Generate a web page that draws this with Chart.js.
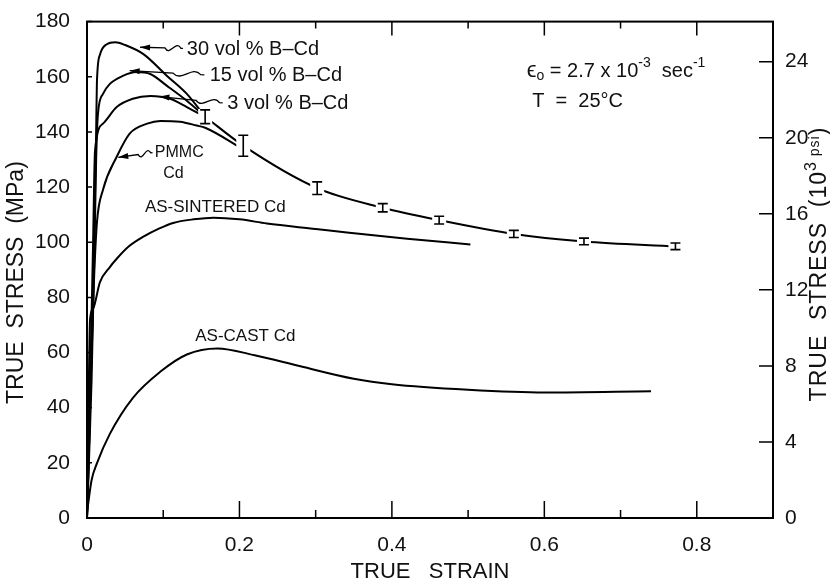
<!DOCTYPE html>
<html>
<head>
<meta charset="utf-8">
<script src="https://cdn.jsdelivr.net/npm/chart.js@4.4.0/dist/chart.umd.min.js"></script>
<style>
  body { margin: 0; background: #fff; }
</style>
</head>
<body>
<canvas id="stressChart" width="830" height="587"></canvas>
<script>
// true stress - true strain curves
const strain30 = [0, 0.006, 0.010, 0.012, 0.013, 0.017, 0.026, 0.037, 0.050, 0.074, 0.105, 0.131, 0.155];
const stress30 = [0, 60, 110, 140, 158, 168, 171.8, 172.5, 171.5, 168.2, 160.3, 153.8, 145.5];

const strain15 = [0, 0.006, 0.010, 0.012, 0.0144, 0.021, 0.030, 0.047, 0.065, 0.083, 0.105, 0.131, 0.155];
const stress15 = [0, 50, 100, 130, 146.6, 153.8, 157.4, 160.3, 161.7, 161, 156.7, 151.3, 145.5];

const strain3 = [0, 0.005, 0.008, 0.0105, 0.021, 0.039, 0.060, 0.083, 0.109, 0.131, 0.155];
const stress3 = [0, 60, 100, 133, 143, 149, 152, 153, 152, 149, 145.5];

const strainPmmc = [0, 0.005, 0.009, 0.013, 0.021, 0.039, 0.056, 0.079, 0.096, 0.122, 0.144, 0.155, 0.203];
const stressPmmc = [0, 50, 85, 107, 119, 131, 139.4, 143, 144, 143.7, 142.3, 141.5, 134];

// common B-Cd / PMMC curve with error bars
const strainBars = [0.155, 0.205, 0.302, 0.388, 0.462, 0.560, 0.652, 0.772];
const stressBars = [145.5, 135, 119.6, 112.5, 108, 103, 100.3, 98.5];
const errBars = [2.5, 3.8, 2.3, 1.5, 1.4, 1.3, 1.2, 1.2];

const strainSinter = [0, 0.002, 0.004, 0.008, 0.017, 0.030, 0.039, 0.055, 0.074, 0.095, 0.113, 0.140, 0.166, 0.200, 0.236, 0.300, 0.341, 0.420, 0.503];
const stressSinter = [0, 40, 72, 76, 85.5, 91, 94, 98.5, 102, 105, 107, 108.3, 108.9, 108.3, 106.8, 104.8, 103.5, 101.3, 99.2];

const strainCast = [0, 0.006, 0.013, 0.030, 0.060, 0.096, 0.131, 0.171, 0.220, 0.280, 0.350, 0.400, 0.500, 0.600, 0.740];
const stressCast = [2, 13.7, 19.8, 30.5, 43.5, 53, 59.3, 61.5, 59, 55, 50.5, 48.5, 46.5, 45.5, 46];

const xTicks = [0, 0.2, 0.4, 0.6, 0.8];
const xMinorTicks = [0.1, 0.3, 0.5, 0.7];
const mpaTicks = [0, 20, 40, 60, 80, 100, 120, 140, 160, 180];
const ksiTicks = [0, 4, 8, 12, 16, 20, 24];
const MPA_PER_KSI = 6.894757;

const FONT = '"Liberation Sans", Arial, sans-serif';
Chart.defaults.font.family = FONT;
Chart.defaults.color = '#111';

function toPoints(xs, ys) {
  return xs.map((x, i) => ({ x: x, y: ys[i] }));
}

function curve(label, xs, ys) {
  return {
    label: label,
    data: toPoints(xs, ys),
    showLine: true,
    borderColor: '#000',
    borderWidth: 2,
    pointRadius: 0,
    cubicInterpolationMode: 'monotone',
    fill: false
  };
}

// text made of pieces (super/subscripts)
function drawPieces(ctx, pieces, x, y, align) {
  let total = 0;
  pieces.forEach(p => {
    ctx.font = p.size + 'px ' + FONT;
    total += ctx.measureText(p.t).width;
  });
  let cx = align === 'center' ? x - total / 2 : x;
  pieces.forEach(p => {
    ctx.font = p.size + 'px ' + FONT;
    ctx.fillText(p.t, cx, y + (p.dy || 0));
    cx += ctx.measureText(p.t).width;
  });
}

function squiggleArrow(ctx, tx, ty, hx, hy) {
  const dx = hx - tx, dy = hy - ty;
  const len = Math.sqrt(dx * dx + dy * dy);
  const ux = dx / len, uy = dy / len;
  const nx = -uy, ny = ux;
  const p = t => [tx + dx * t, ty + dy * t];
  const a = p(0.05), b = p(0.42);
  const q1 = p(0.17), q2 = p(0.30);
  ctx.beginPath();
  ctx.moveTo(tx, ty);
  ctx.lineTo(a[0], a[1]);
  ctx.bezierCurveTo(q1[0] + nx * 9, q1[1] + ny * 9, q2[0] - nx * 9, q2[1] - ny * 9, b[0], b[1]);
  ctx.lineTo(hx, hy);
  ctx.stroke();
  ctx.beginPath();
  ctx.moveTo(hx, hy);
  ctx.lineTo(hx - ux * 10 + nx * 3, hy - uy * 10 + ny * 3);
  ctx.lineTo(hx - ux * 10 - nx * 3, hy - uy * 10 - ny * 3);
  ctx.closePath();
  ctx.fill();
}

const figurePlugin = {
  id: 'figure',
  afterDatasetsDraw(chart) {
    const ctx = chart.ctx;
    const xs = chart.scales.x, ys = chart.scales.y;
    ctx.save();
    ctx.strokeStyle = '#000';
    // error bars, with a little gap cut into the line
    strainBars.forEach((s, i) => {
      const px = xs.getPixelForValue(s);
      const top = ys.getPixelForValue(stressBars[i] + errBars[i]);
      const bot = ys.getPixelForValue(stressBars[i] - errBars[i]);
      ctx.fillStyle = '#fff';
      ctx.fillRect(px - 7, top - 1, 14, bot - top + 2);
      ctx.lineWidth = 1.6;
      ctx.beginPath();
      ctx.moveTo(px, top); ctx.lineTo(px, bot);
      ctx.moveTo(px - 5, top); ctx.lineTo(px + 5, top);
      ctx.moveTo(px - 5, bot); ctx.lineTo(px + 5, bot);
      ctx.stroke();
    });
    ctx.fillStyle = '#111';

    // curve labels
    const labels = [
      { t: '30 vol % B\u2013Cd', x: 0.131, y: 170, size: 20 },
      { t: '15 vol % B\u2013Cd', x: 0.161, y: 160.6, size: 20 },
      { t: '3 vol % B\u2013Cd', x: 0.184, y: 150.2, size: 20 },
      { t: 'PMMC', x: 0.089, y: 132.5, size: 16 },
      { t: 'Cd', x: 0.100, y: 125, size: 16 },
      { t: 'AS-SINTERED Cd', x: 0.076, y: 112.5, size: 17 },
      { t: 'AS-CAST Cd', x: 0.142, y: 65.8, size: 17 }
    ];
    ctx.textBaseline = 'middle';
    ctx.textAlign = 'left';
    labels.forEach(l => {
      ctx.font = l.size + 'px ' + FONT;
      ctx.fillText(l.t, xs.getPixelForValue(l.x), ys.getPixelForValue(l.y));
    });

    const ex = xs.getPixelForValue(0.577), ey = ys.getPixelForValue(162);
    drawPieces(ctx, [
      { t: '\u03F5', size: 22 },
      { t: 'o', size: 14, dy: 5 },
      { t: ' = 2.7 x 10', size: 20 },
      { t: '-3', size: 14, dy: -8 },
      { t: '  sec', size: 20 },
      { t: '-1', size: 14, dy: -8 }
    ], ex, ey, 'left');
    ctx.font = '20px ' + FONT;
    ctx.fillText('T  =  25\u00B0C', xs.getPixelForValue(0.584), ys.getPixelForValue(151));

    // squiggly arrows from labels to curves
    const arrows = [
      { tx: 0.126, ty: 170.3, hx: 0.0696, hy: 170.7 },
      { tx: 0.154, ty: 160.7, hx: 0.056, hy: 162.2 },
      { tx: 0.178, ty: 150.5, hx: 0.095, hy: 152.8 },
      { tx: 0.086, ty: 132.5, hx: 0.041, hy: 130.8 }
    ];
    ctx.lineWidth = 1.3;
    ctx.fillStyle = '#000';
    arrows.forEach(a => {
      squiggleArrow(ctx, xs.getPixelForValue(a.tx), ys.getPixelForValue(a.ty),
        xs.getPixelForValue(a.hx), ys.getPixelForValue(a.hy));
    });
    ctx.restore();
  },
  afterDraw(chart) {
    const ctx = chart.ctx;
    const a = chart.chartArea;
    const xs = chart.scales.x, ys = chart.scales.y, y2 = chart.scales.y2;
    ctx.save();
    ctx.strokeStyle = '#000';
    ctx.lineWidth = 2;
    ctx.strokeRect(a.left, a.top, a.right - a.left, a.bottom - a.top);
    ctx.lineWidth = 1.5;
    ctx.beginPath();
    xTicks.forEach(v => {
      const px = xs.getPixelForValue(v);
      ctx.moveTo(px, a.bottom); ctx.lineTo(px, a.bottom - 17);
      ctx.moveTo(px, a.top); ctx.lineTo(px, a.top + 14);
    });
    xMinorTicks.forEach(v => {
      const px = xs.getPixelForValue(v);
      ctx.moveTo(px, a.bottom); ctx.lineTo(px, a.bottom - 8);
      ctx.moveTo(px, a.top); ctx.lineTo(px, a.top + 7);
    });
    mpaTicks.forEach(v => {
      const py = ys.getPixelForValue(v);
      ctx.moveTo(a.left, py); ctx.lineTo(a.left + 5, py);
    });
    ksiTicks.forEach(v => {
      const py = y2.getPixelForValue(v);
      ctx.moveTo(a.right, py); ctx.lineTo(a.right - 14, py);
    });
    ctx.stroke();

    // right axis title reads bottom to top
    ctx.fillStyle = '#111';
    ctx.translate(820, 264);
    ctx.rotate(-Math.PI / 2);
    ctx.textBaseline = 'middle';
    ctx.textAlign = 'left';
    ctx.letterSpacing = '1px';
    drawPieces(ctx, [
      { t: 'TRUE  STRESS  (10', size: 23 },
      { t: '3', size: 16, dy: -8 },
      { t: ' psi', size: 14, dy: -5 },
      { t: ')', size: 23 }
    ], 0, 0, 'center');
    ctx.restore();
  }
};

new Chart(document.getElementById('stressChart'), {
  type: 'scatter',
  data: {
    datasets: [
      curve('30 vol % B-Cd', strain30, stress30),
      curve('15 vol % B-Cd', strain15, stress15),
      curve('3 vol % B-Cd', strain3, stress3),
      curve('PMMC Cd', strainPmmc, stressPmmc),
      curve('B-Cd common', strainBars, stressBars),
      curve('AS-SINTERED Cd', strainSinter, stressSinter),
      curve('AS-CAST Cd', strainCast, stressCast)
    ]
  },
  options: {
    responsive: false,
    animation: false,
    layout: { padding: { top: 16, left: 0, right: 0, bottom: 0 } },
    plugins: {
      legend: { display: false },
      tooltip: { enabled: false }
    },
    scales: {
      x: {
        type: 'linear',
        position: 'bottom',
        min: 0,
        max: 0.9,
        grid: { display: false },
        border: { display: false },
        afterBuildTicks: s => { s.ticks = xTicks.map(v => ({ value: v })); },
        afterFit: s => { s.height = 69; },
        ticks: {
          padding: 7,
          font: { size: 21 },
          maxRotation: 0,
          callback: v => (v === 0 ? '0' : v.toFixed(1))
        },
        title: {
          display: true,
          text: 'TRUE   STRAIN',
          font: { size: 22 },
          padding: { top: 0, bottom: 2 }
        }
      },
      y: {
        type: 'linear',
        position: 'left',
        min: 0,
        max: 180,
        grid: { display: false },
        border: { display: false },
        afterBuildTicks: s => { s.ticks = mpaTicks.map(v => ({ value: v })); },
        afterFit: s => { s.width = 87; },
        ticks: { padding: 9, font: { size: 21 } },
        title: {
          display: true,
          text: 'TRUE  STRESS  (MPa)    ',
          font: { size: 23 },
          padding: { top: 3, bottom: 0 }
        }
      },
      y2: {
        type: 'linear',
        position: 'right',
        min: 0,
        max: 180 / MPA_PER_KSI,
        grid: { display: false },
        border: { display: false },
        afterBuildTicks: s => { s.ticks = ksiTicks.map(v => ({ value: v })); },
        afterFit: s => { s.width = 57; },
        ticks: { padding: 4, font: { size: 21 } }
      }
    }
  },
  plugins: [figurePlugin]
});
</script>
</body>
</html>
